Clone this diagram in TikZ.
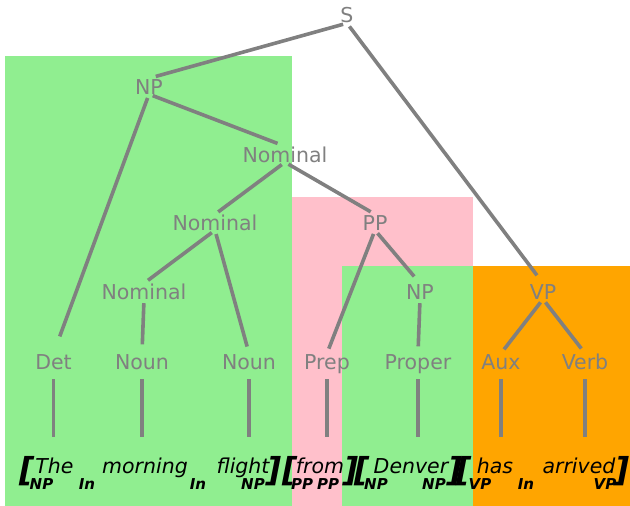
\documentclass[tikz,border=0pt]{standalone}
\usepackage{fontspec}
\setmainfont{DejaVu Sans}
\definecolor{boxgreen}{HTML}{90EE90}
\definecolor{boxpink}{HTML}{FFC0CB}
\definecolor{boxorange}{HTML}{FFA500}
\definecolor{treegray}{HTML}{808080}
\tikzset{
    cat/.style = {anchor = base, inner sep = 0pt, text height = 15.5pt, text depth = 0pt,
        text = treegray, font = \fontsize{20.5}{24}\selectfont},
    word/.style = {anchor = base, inner sep = 0pt, text height = 15pt, text depth = 0pt,
        font = \fontsize{20.5}{24}\selectfont\itshape},
    tag/.style = {anchor = base, inner sep = 0pt, font = \fontsize{15}{18}\selectfont\bfseries\itshape},
    brack/.style = {anchor = base, inner sep = 0pt, font = \fontsize{33}{36}\selectfont\bfseries\itshape},
    branch/.style = {draw = treegray, line width = 3.6pt, shorten < = 4pt, shorten > = 7pt},
    leaf/.style = {draw = treegray, line width = 3.6pt, shorten < = 10pt, shorten > = 21pt}
}
\begin{document}
\begin{tikzpicture}[x = 1pt, y = -1pt]
        \useasboundingbox (0, 0) rectangle (630, 506);

        % Kästen
        \fill [boxgreen] (5, 56) rectangle (292, 506);
        \fill [boxpink] (292, 197) rectangle (473, 506);
        \fill [boxgreen] (342, 266) rectangle (473, 506);
        \fill [boxorange] (473, 266) rectangle (630, 506);

        % Baum
        \node [cat] (s) at (347, 23) {S};
        \node [cat] (np) at (149, 94) {NP};
        \node [cat] (nomA) at (285, 162) {Nominal};
        \node [cat] (nomB) at (215, 230) {Nominal};
        \node [cat] (pp) at (375, 230) {PP};
        \node [cat] (nomC) at (144, 299) {Nominal};
        \node [cat] (npB) at (420, 299) {NP};
        \node [cat] (vp) at (543, 299) {VP};
        \node [cat] (det) at (53.5, 369) {Det};
        \node [cat] (nounA) at (142, 369) {Noun};
        \node [cat] (nounB) at (249, 369) {Noun};
        \node [cat] (prep) at (327, 369) {Prep};
        \node [cat] (proper) at (418, 369) {Proper};
        \node [cat] (aux) at (501, 369) {Aux};
        \node [cat] (verb) at (585, 369) {Verb};

        \draw [branch] (s.south) -- (np.north);
        \draw [branch, shorten > = 10pt] (s.south) -- (vp.north);
        \draw [branch, shorten > = 18pt] (np.south) -- (det.north);
        \draw [branch, shorten > = 8pt] (np.south) -- (nomA.north);
        \draw [branch, shorten > = 4pt] (nomA.south) -- (nomB.north);
        \draw [branch, shorten > = 5pt] (nomA.south) -- (pp.north);
        \draw [branch, shorten > = 5pt] (nomB.south) -- (nomC.north);
        \draw [branch] (nomB.south) -- (nounB.north);
        \draw [branch, shorten > = 9pt] (nomC.south) -- (nounA.north);
        \draw [branch, shorten > = 5pt] (pp.south) -- (prep.north);
        \draw [branch, shorten > = 9pt] (pp.south) -- (npB.north);
        \draw [branch] (npB.south) -- (proper.north);
        \draw [branch, shorten > = 5pt] (vp.south) -- (aux.north);
        \draw [branch, shorten > = 6pt] (vp.south) -- (verb.north);

        % Wörter
        \node [word] (the) at (54.5, 473) {The};
        \node [word] (morning) at (145, 473) {morning};
        \node [word] (flight) at (243, 473) {flight};
        \node [word] (from) at (320, 473) {from};
        \node [word] (denver) at (411, 473) {Denver};
        \node [word] (has) at (495, 473) {has};
        \node [word] (arrived) at (579, 473) {arrived};

        \draw [leaf] (det.south) -- (det.south |- the.north);
        \draw [leaf] (nounA.south) -- (nounA.south |- morning.north);
        \draw [leaf] (nounB.south) -- (nounB.south |- flight.north);
        \draw [leaf] (prep.south) -- (prep.south |- from.north);
        \draw [leaf] (proper.south) -- (proper.south |- denver.north);
        \draw [leaf] (aux.south) -- (aux.south |- has.north);
        \draw [leaf] (verb.south) -- (verb.south |- arrived.north);

        % Klammern
        \node [brack] (openA) at (27, 481) {[};
        \node [brack] (closeA) at (274, 481) {]};
        \node [brack] (openB) at (290, 481) {[};
        \node [brack] (closeB) at (351, 481) {]};
        \node [brack] (openC) at (362, 481) {[};
        \node [brack] (closeC) at (455, 481) {]};
        \node [brack] (openD) at (464, 481) {[};
        \node [brack] (closeD) at (622, 481) {]};

        % Marken
        \node [tag] (tagA) at (41.5, 489) {NP};
        \node [tag] (tagB) at (87, 489) {In};
        \node [tag] (tagC) at (198, 489) {In};
        \node [tag] (tagD) at (253, 489) {NP};
        \node [tag] (tagE) at (302, 489) {PP};
        \node [tag] (tagF) at (328, 489) {PP};
        \node [tag] (tagG) at (376, 489) {NP};
        \node [tag] (tagH) at (434, 489) {NP};
        \node [tag] (tagI) at (480, 489) {VP};
        \node [tag] (tagJ) at (526, 489) {In};
        \node [tag] (tagK) at (605, 489) {VP};
    \end{tikzpicture}
\end{document}
